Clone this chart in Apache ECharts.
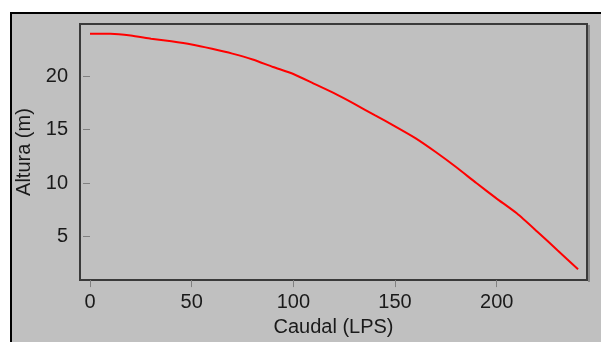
<!DOCTYPE html>
<html>
<head>
<meta charset="utf-8">
<script src="https://cdn.jsdelivr.net/npm/echarts@6/dist/echarts.min.js"></script>
<style>
html,body{margin:0;padding:0;background:#fff;}
#c{width:601px;height:342px;}
</style>
</head>
<body>
<div id="c"></div>
<script>
const caudal = [0,10,20,30,40,50,60,70,80,90,100,110,120,130,140,150,160,170,180,190,200,210,220,230,240];
const altura = [23.95,23.95,23.8,23.5,23.25,22.95,22.55,22.1,21.55,20.85,20.2,19.3,18.4,17.4,16.35,15.3,14.2,12.9,11.5,10.0,8.55,7.15,5.45,3.7,1.95];
const xTicks = [0,50,100,150,200];
const yTicks = [5,10,15,20];

const chart = echarts.init(document.getElementById('c'), null, {renderer:'canvas'});
const font = {fontFamily:'Liberation Sans, Arial, sans-serif', fontSize:20, color:'#1a1a1a'};
chart.setOption({
  backgroundColor:'#ffffff',
  animation:false,
  graphic:[{
    type:'rect', z:-10,
    shape:{x:11,y:13,width:700,height:400},
    style:{fill:'#c0c0c0', stroke:'#000', lineWidth:2}
  },{
    type:'line', z:10,
    shape:{x1:589,y1:25,x2:589,y2:282},
    style:{stroke:'#555', lineWidth:1}
  }],
  grid:{left:80, top:24, width:507, height:257, show:true, borderColor:'#3a3a3a', borderWidth:2, backgroundColor:'transparent'},
  xAxis:{
    type:'value', min:-4.92, max:244.4,
    name:'Caudal (LPS)', nameLocation:'middle', nameGap:36,
    nameTextStyle:font,
    axisLine:{show:false},
    splitLine:{show:false},
    axisTick:{show:true, length:7, lineStyle:{color:'#808080', width:1}, customValues:xTicks},
    axisLabel:Object.assign({margin:12, customValues:xTicks}, font)
  },
  yAxis:{
    type:'value', min:0.93, max:24.87,
    name:'Altura (m)', nameLocation:'middle', nameGap:40, nameRotate:90,
    nameTextStyle:font,
    axisLine:{show:false},
    splitLine:{show:false},
    axisTick:{show:true, length:7, lineStyle:{color:'#808080', width:1}, customValues:yTicks},
    axisLabel:Object.assign({margin:12, customValues:yTicks}, font)
  },
  series:[{
    type:'line',
    data:caudal.map((x,i)=>[x, altura[i]]),
    symbol:'none',
    lineStyle:{color:'#ff0000', width:2},
    smooth:0.2
  }]
});
</script>
</body>
</html>
